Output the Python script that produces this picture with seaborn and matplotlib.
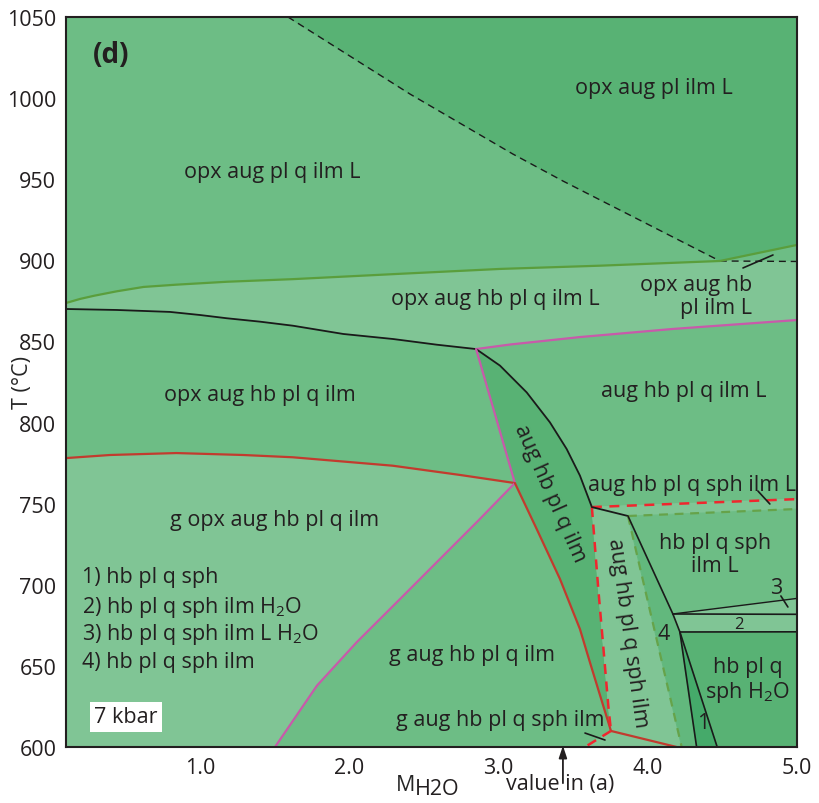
import numpy as np
import matplotlib
matplotlib.use("Agg")
import matplotlib.pyplot as plt
from matplotlib.ticker import MultipleLocator
import seaborn as sns

sns.set_theme(style="ticks")
plt.rcParams['font.family'] = ['Open Sans', 'DejaVu Sans']
plt.rcParams['mathtext.fontset'] = 'custom'
plt.rcParams['mathtext.rm'] = 'Open Sans'
plt.rcParams['text.color'] = '#231f20'

# ---------------- data (M_H2O, T in degC) ----------------
dash_diag_x = [1.588, 2.406, 3.096, 3.431, 4.483]
dash_diag_y = [1050, 1002.5, 965.5, 948.9, 899.6]
green_x = [0.10, 0.194, 0.29, 0.44, 0.62, 0.84, 1.18, 1.62, 2.34, 3.01, 3.68, 4.483]
green_y = [873.7, 876.2, 878.2, 880.9, 883.6, 885.0, 886.8, 888.4, 891.7, 894.7, 896.7, 899.6]
green_r_x = [4.483, 5.0]
green_r_y = [899.6, 909.5]
dash_h_x = [4.483, 5.0]
dash_h_y = [899.6, 899.3]
black_top_x = [0.10, 0.44, 0.797, 0.998, 1.177, 1.40, 1.621, 1.959, 2.292, 2.585, 2.849]
black_top_y = [870.0, 869.4, 868.2, 866.3, 864.3, 862.2, 859.7, 854.6, 851.5, 848.0, 845.3]
pink_top_x = [2.849, 3.076, 3.545, 4.168, 5.0]
pink_top_y = [845.3, 848.1, 852.7, 857.7, 863.2]
black_curve_x = [2.849, 3.009, 3.188, 3.344, 3.456, 3.545, 3.625]
black_curve_y = [845.3, 835.1, 818.6, 800.1, 783.7, 767.3, 747.9]
pink_mid_x = [2.849, 3.109]
pink_mid_y = [845.3, 762.7]
red_left_x = [0.10, 0.395, 0.84, 1.288, 1.62, 2.29, 2.741, 3.109]
red_left_y = [778.1, 780.0, 781.2, 780.0, 778.6, 773.4, 767.7, 762.7]
pink_low_x = [3.109, 2.861, 2.607, 2.339, 2.050, 1.782, 1.501]
pink_low_y = [762.7, 739.3, 715.9, 691.2, 664.7, 637.8, 600.0]
red_low_x = [3.109, 3.255, 3.411, 3.545, 3.612, 3.753]
red_low_y = [762.7, 734.4, 703.6, 672.7, 652.2, 609.9]
red_bot_x = [3.753, 4.193]
red_bot_y = [609.9, 600.0]
reddash_bot_x = [3.753, 3.579]
reddash_bot_y = [609.9, 600.0]
reddash_v_x = [3.625, 3.668, 3.701, 3.735, 3.753]
reddash_v_y = [747.9, 697.4, 662.4, 625.5, 609.9]
reddash_h_x = [3.625, 5.0]
reddash_h_y = [747.9, 752.8]
black_short_x = [3.625, 3.867]
black_short_y = [747.9, 742.4]
greendash_h_x = [3.867, 5.0]
greendash_h_y = [742.4, 746.7]
greendash_v_x = [3.867, 4.227]
greendash_v_y = [742.4, 600.0]
black_r_x = [3.867, 4.168, 4.215, 4.327]
black_r_y = [742.4, 682.0, 670.9, 600.0]
black_r2_x = [4.215, 4.465]
black_r2_y = [670.9, 600.0]
line3_x = [4.168, 5.0]
line3_y = [682.0, 691.6]
line_a_x = [4.168, 5.0]
line_a_y = [682.0, 681.8]
line_b_x = [4.215, 5.0]
line_b_y = [670.9, 671.0]
leader_x = [[4.638, 4.839], [4.738, 4.818], [4.892, 4.939], [3.579, 3.713]]
leader_y = [[895.3, 903.3], [757.8, 749.8], [693.1, 686.3], [608.6, 604.3]]

x_ticks = [1.0, 2.0, 3.0, 4.0, 5.0]
x_tick_labels = ["1.0", "2.0", "3.0", "4.0", "5.0"]

XMIN, XMAX, YMIN, YMAX = 0.1, 5.0, 600, 1050

DARK = "#58b274"
MED = "#6dbd85"
LIGHT = "#80c595"
SAT = "#45aa6a"
MDARK = "#62b87d"


def P(xs, ys, rev=False):
    pts = list(zip(xs, ys))
    return pts[::-1] if rev else pts


regions = {
    "A": (MED, [(XMIN, YMAX)] + P(dash_diag_x, dash_diag_y) + P(green_x, green_y, True)),
    "B": (DARK, P(dash_diag_x, dash_diag_y) + P(green_r_x, green_r_y)[1:] + [(XMAX, YMAX)]),
    "C": (MED, P(green_r_x, green_r_y) + [(XMAX, dash_h_y[1])]),
    "D": (LIGHT, P(green_x, green_y) + [(XMAX, dash_h_y[1])] + P(pink_top_x, pink_top_y, True)
          + P(black_top_x, black_top_y, True)),
    "E": (MED, P(black_top_x, black_top_y) + P(pink_mid_x, pink_mid_y)[1:] + P(red_left_x, red_left_y, True)),
    "F": (LIGHT, P(red_left_x, red_left_y) + P(pink_low_x, pink_low_y)[1:] + [(XMIN, YMIN)]),
    "G": (MED, P(pink_low_x, pink_low_y) + P(reddash_bot_x, reddash_bot_y, True) + P(red_low_x, red_low_y, True)),
    "H": (DARK, P(pink_mid_x, pink_mid_y) + P(red_low_x, red_low_y)[1:] + P(reddash_v_x, reddash_v_y, True)
          + P(black_curve_x, black_curve_y, True)),
    "I": (MED, P(pink_top_x, pink_top_y) + P(reddash_h_x, reddash_h_y, True) + P(black_curve_x, black_curve_y, True)),
    "J": (LIGHT, P(reddash_h_x, reddash_h_y) + P(greendash_h_x, greendash_h_y, True)),
    "K": (LIGHT, P(black_short_x, black_short_y) + P(greendash_v_x, greendash_v_y)[1:]
          + P(red_bot_x, red_bot_y, True) + P(reddash_v_x, reddash_v_y, True)),
    "L": (LIGHT, P(red_bot_x, red_bot_y) + [(reddash_bot_x[1], reddash_bot_y[1])]),
    "M": (MDARK, P(black_r_x, black_r_y) + [(greendash_v_x[1], greendash_v_y[1])]),
    "N": (MED, P(greendash_h_x, greendash_h_y) + P(line3_x, line3_y, True) + P(black_r_x[:2], black_r_y[:2], True)),
    "O": (LIGHT, P(line3_x, line3_y) + [(XMAX, line_a_y[1])]),
    "P": (LIGHT, P(line_a_x, line_a_y) + P(line_b_x, line_b_y, True)),
    "Q": (DARK, P(line_b_x, line_b_y) + [(XMAX, YMIN), (black_r2_x[1], black_r2_y[1])]),
    "R": (SAT, [(black_r2_x[0], black_r2_y[0]), (black_r2_x[1], black_r2_y[1]), (black_r_x[3], black_r_y[3])]),
}

fig = plt.figure(figsize=(8.19, 8.04), dpi=100)
ax = fig.add_axes([66 / 819, 56 / 804, 731 / 819, 730 / 804])

for name, (col, pts) in regions.items():
    xs, ys = zip(*pts)
    ax.fill(xs, ys, color=col, lw=0.6, ec=col, zorder=1)


def line(xs, ys, color, lw=1.3, ls="-"):
    sns.lineplot(x=xs, y=ys, sort=False, estimator=None, color=color, lw=lw,
                 linestyle=ls, ax=ax, zorder=3)


BLK = "#1a1a1a"
GRN = "#5a9e3c"
PNK = "#c85aaa"
RED = "#c23b2e"
RDASH = "#f0262e"
GDASH = "#66a34a"

line(dash_diag_x, dash_diag_y, BLK, 1.0, (0, (5, 3.5)))
line(dash_h_x, dash_h_y, BLK, 1.0, (0, (5, 3.5)))
line(green_x, green_y, GRN, 1.6)
line(green_r_x, green_r_y, GRN, 1.6)
line(black_top_x, black_top_y, BLK, 1.3)
line(pink_top_x, pink_top_y, PNK, 1.6)
line(black_curve_x, black_curve_y, BLK, 1.3)
line(pink_mid_x, pink_mid_y, PNK, 1.6)
line(red_left_x, red_left_y, RED, 1.6)
line(pink_low_x, pink_low_y, PNK, 1.6)
line(red_low_x, red_low_y, RED, 1.6)
line(red_bot_x, red_bot_y, RED, 1.6)
line(reddash_bot_x, reddash_bot_y, RDASH, 1.8, (0, (4, 3)))
line(reddash_v_x, reddash_v_y, RDASH, 1.8, (0, (4, 3)))
line(reddash_h_x, reddash_h_y, RDASH, 1.8, (0, (4, 3)))
line(black_short_x, black_short_y, BLK, 1.3)
line(greendash_h_x, greendash_h_y, GDASH, 1.6, (0, (4, 3)))
line(greendash_v_x, greendash_v_y, GDASH, 1.6, (0, (4, 3)))
line(black_r_x, black_r_y, BLK, 1.2)
line(black_r2_x, black_r2_y, BLK, 1.2)
line(line3_x, line3_y, BLK, 1.0)
line(line_a_x, line_a_y, BLK, 1.2)
line(line_b_x, line_b_y, BLK, 1.2)
for lx, ly in zip(leader_x, leader_y):
    line(lx, ly, BLK, 1.2)

ax.set_xlim(XMIN, XMAX)
ax.set_ylim(YMIN, YMAX)

FS = 15.5
H2O = r"H$_\mathregular{2}$O"
labels = [
    ("opx aug pl ilm L", 4.04, 1006.8, {}),
    ("opx aug pl q ilm L", 1.48, 955.0, {}),
    ("opx aug hb pl q ilm L", 2.975, 876.2, {}),
    ("opx aug hb\npl ilm L", 4.70, 878.0, {"ha": "right", "multialignment": "right", "linespacing": 1.1}),
    ("opx aug hb pl q ilm", 1.40, 817.0, {}),
    ("aug hb pl q ilm L", 4.24, 820.0, {}),
    ("g opx aug hb pl q ilm", 1.50, 740.5, {}),
    ("aug hb pl q ilm", 3.344, 757.1, {"rotation": -66}),
    ("aug hb pl q sph ilm L", 4.296, 762.0, {}),
    ("hb pl q sph\nilm L", 4.45, 719.0, {"linespacing": 1.1}),
    ("aug hb pl q sph ilm", 3.862, 670.7, {"rotation": -82}),
    ("g aug hb pl q ilm", 2.821, 657.3, {}),
    ("g aug hb pl q sph ilm", 3.009, 617.2, {}),
    ("4", 4.108, 670.2, {}),
    ("3", 4.859, 698.6, {}),
    ("2", 4.61, 675.8, {"fontsize": 12}),
    ("1", 4.37, 614.8, {}),
    ("hb pl q\nsph " + H2O, 4.67, 641.3, {"linespacing": 1.15}),
]
for t, x, y, kw in labels:
    d = dict(ha="center", va="center", fontsize=FS, zorder=5)
    d.update(kw)
    ax.text(x, y, t, **d)

legend_lines = ["1) hb pl q sph", "2) hb pl q sph ilm " + H2O,
                "3) hb pl q sph ilm L " + H2O, "4) hb pl q sph ilm"]
legend_y = [704.8, 686.9, 669.7, 652.4]
for t, y in zip(legend_lines, legend_y):
    ax.text(0.207, y, t, ha="left", va="center", fontsize=FS, zorder=5)

ax.text(0.502, 618.5, "7 kbar", ha="center", va="center", fontsize=FS, zorder=5,
        bbox=dict(facecolor="white", edgecolor="none", pad=3))
ax.text(0.405, 1027.0, "(d)", ha="center", va="center", fontsize=20, fontweight="bold", zorder=5)

ax.annotate("", xy=(3.431, 602.5), xytext=(3.431, 576), annotation_clip=False,
            arrowprops=dict(arrowstyle="-|>,head_length=0.6,head_width=0.2", color="#231f20", lw=1.3))
ax.text(3.411, 577.2, "value in (a)", ha="center", va="center", fontsize=FS, clip_on=False)

ax.xaxis.set_minor_locator(MultipleLocator(0.1))
ax.yaxis.set_major_locator(MultipleLocator(50))
ax.yaxis.set_minor_locator(MultipleLocator(10))
ax.set_xticks(x_ticks)
ax.set_xticklabels(x_tick_labels)
ax.tick_params(which="major", direction="in", length=10, width=1.2, labelsize=FS,
               colors="#231f20", pad=7)
ax.tick_params(which="minor", direction="in", length=5, width=1.0, colors="#231f20")
ax.tick_params(top=False, right=False, which="both")
for sp in ax.spines.values():
    sp.set_linewidth(1.5)
    sp.set_color("#231f20")
    sp.set_zorder(6)

ax.set_ylabel("T (°C)", fontsize=FS, va="center")
ax.yaxis.set_label_coords(-0.060, 0.5)
ax.set_xlabel("M", fontsize=FS, ha="right", va="center")
ax.xaxis.set_label_coords(0.4774, -0.0514)
ax.text(0.4774, -0.0575, "H2O", transform=ax.transAxes, fontsize=FS, ha="left", va="center")

fig.savefig("out.png", dpi=100)
